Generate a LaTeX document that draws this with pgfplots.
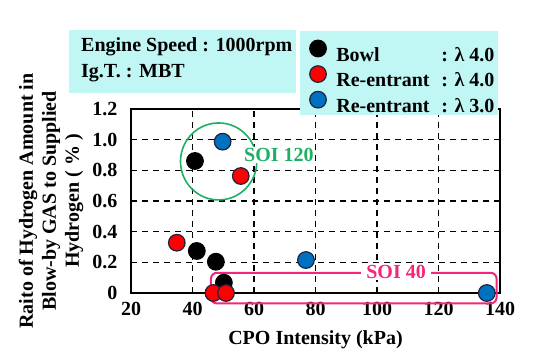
\documentclass[border=0pt]{standalone}
\usepackage{pgfplots}
\pgfplotsset{compat=1.18}
\usepackage{fontspec}
\setmainfont{Liberation Serif}
\definecolor{boxcyan}{HTML}{C0F6F4}
\definecolor{mkblue}{HTML}{0070C0}
\definecolor{mkred}{HTML}{FF0000}
\definecolor{soigreen}{HTML}{1DB064}
\definecolor{soipink}{HTML}{F5267A}
\definecolor{edge}{HTML}{1C2440}
\begin{document}
\begin{tikzpicture}[font=\rmfamily\fontsize{20}{23}\selectfont\bfseries]
\useasboundingbox (0pt,0pt) rectangle (535pt,360pt);
\begin{axis}[
  at={(131pt,67pt)}, anchor=south west,
  scale only axis, width=369pt, height=184pt,
  xmin=20, xmax=140, ymin=0, ymax=1.2,
  xtick={20,40,60,80,100,120,140},
  ytick={0,0.2,0.4,0.6,0.8,1.0,1.2},
  yticklabels={0,0.2,0.4,0.6,0.8,1.0,1.2},
  grid=major,
  grid style={black, line width=1.2pt, dash pattern=on 6pt off 5pt},
  axis line style={line width=2.3pt},
  major tick length=0pt,
  clip=false,
  tick label style={font=\rmfamily\fontsize{20}{23}\selectfont\bfseries},
  /pgf/number format/assume math mode=true,
  xticklabel style={yshift=-6pt},
  yticklabel style={xshift=-10pt},
  xlabel={CPO Intensity (kPa)},
  ylabel={Raito of Hydrogen Amount in\\Blow-by GAS to Supplied\\Hydrogen ( \% )},
  xlabel style={at={(rel axis cs:0.5,-0.2554)}, anchor=center},
  ylabel style={at={(rel axis cs:-0.2168,0.5)}, anchor=center, align=center, font=\rmfamily\fontsize{20}{23}\selectfont\bfseries},
  legend image code/.code={\draw[mark repeat=2,mark phase=2,#1,yshift=6.5pt] plot coordinates {(0pt,0pt) (8.5pt,0pt) (17pt,0pt)};},
  legend style={at={(rel axis cs:0.4838,1.424)}, anchor=north west, fill=none, draw=none,
    inner xsep=0pt, inner ysep=9pt, nodes={inner sep=0pt}, row sep=3pt,
    /tikz/every odd column/.append style={column sep=10pt},
    font=\rmfamily\fontsize{20}{23}\selectfont\bfseries},
  legend cell align=left,
]
\draw[soigreen, line width=1.6pt] (axis cs:48.5,0.858) ellipse [x radius=12.4, y radius=0.251];
\node[fill=white, text=soigreen, inner xsep=1pt, inner ysep=1pt] at (axis cs:68.1,0.90) {SOI 120};
\draw[soipink, line width=2pt, rounded corners=6pt] (axis cs:46,-0.068) rectangle (axis cs:138.9,0.132);
\node[fill=white, text=soipink, inner xsep=5pt, inner ysep=1pt] at (axis cs:106.2,0.136) {SOI 40};
% Bowl lambda 4.0
\addplot[only marks, mark=*, mark size=8.3pt, mark options={draw=black, fill=black, line width=1.2pt}]
  coordinates {(40.8,0.861) (41.4,0.274) (47.6,0.204) (50.2,0.067)};
% Re-entrant lambda 4.0
\addplot[only marks, mark=*, mark size=8.3pt, mark options={draw=edge, fill=mkred, line width=1.2pt}]
  coordinates {(55.7,0.763) (34.9,0.328) (46.8,0.0) (50.9,0.0)};
% Re-entrant lambda 3.0
\addplot[only marks, mark=*, mark size=8.3pt, mark options={draw=edge, fill=mkblue, line width=1.2pt}]
  coordinates {(49.8,0.987) (76.9,0.215) (135.7,0.0)};
\fill[boxcyan] (rel axis cs:0.4580,1.4239) rectangle (rel axis cs:0.9946,0.9674);
\addlegendimage{mark=*, draw=none, mark size=8.3pt, mark options={draw=black, fill=black, line width=1.2pt}}
\addlegendentry{\makebox[105pt][l]{Bowl}: λ 4.0}
\addlegendimage{mark=*, draw=none, mark size=8.3pt, mark options={draw=edge, fill=mkred, line width=1.2pt}}
\addlegendentry{\makebox[105pt][l]{Re-entrant}: λ 4.0}
\addlegendimage{mark=*, draw=none, mark size=8.3pt, mark options={draw=edge, fill=mkblue, line width=1.2pt}}
\addlegendentry{\makebox[105pt][l]{Re-entrant}: λ 3.0}
\end{axis}
\fill[boxcyan] (69pt,267pt) rectangle (296pt,330pt);
\node[anchor=west, inner sep=0pt] at (81pt,313pt) {Engine Speed : 1000rpm};
\node[anchor=west, inner sep=0pt] at (81pt,287pt) {Ig.T. : MBT};
\end{tikzpicture}
\end{document}
